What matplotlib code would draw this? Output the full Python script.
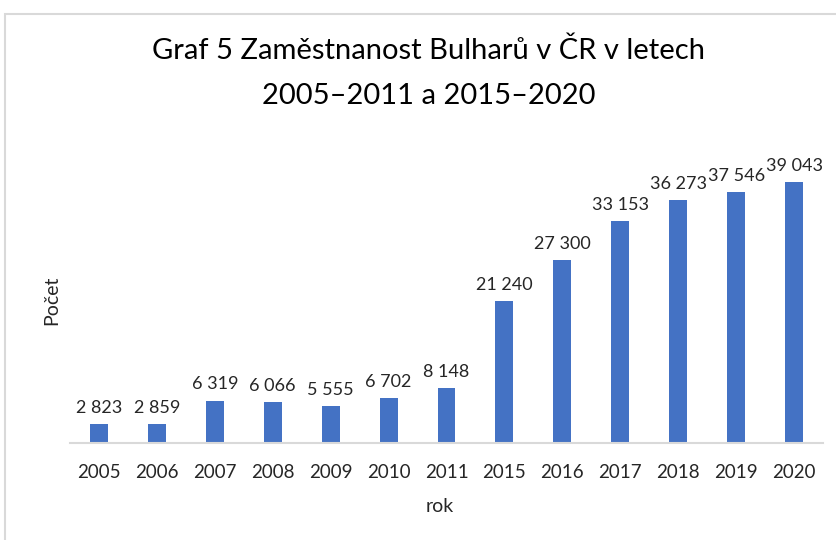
import matplotlib
matplotlib.use("Agg")
import matplotlib.pyplot as plt
from matplotlib.patches import Rectangle

years = ["2005", "2006", "2007", "2008", "2009", "2010", "2011",
         "2015", "2016", "2017", "2018", "2019", "2020"]
values = [2823, 2859, 6319, 6066, 5555, 6702, 8148,
          21240, 27300, 33153, 36273, 37546, 39043]

plt.rcParams['font.family'] = ['Lato', 'DejaVu Sans']

fig = plt.figure(figsize=(8.37, 5.4), dpi=100)
fig.patch.set_facecolor('white')

# chart border
fig.patches.append(Rectangle((5/837, -0.02), 1.1, (540-14)/540 + 0.02,
                             transform=fig.transFigure, fill=False,
                             edgecolor='#d9d9d9', linewidth=1.5))

ax = fig.add_axes([70/837, (540-443)/540, 753/837, 301/540])
x = range(len(years))
bars = ax.bar(x, values, width=0.31, color='#4472C4')
ax.set_xlim(-0.5, len(years) - 0.5)
ax.set_ylim(0, 45000)

for xi, v in zip(x, values):
    lbl = f"{v:,}".replace(",", " ")
    ax.annotate(lbl, (xi, v), xytext=(0, 6), textcoords='offset points',
                ha='center', va='bottom', fontsize=13, color='#262626')

ax.set_xticks(list(x))
ax.set_xticklabels(years, fontsize=13.5, color='#262626')
ax.tick_params(axis='x', length=0, pad=15)
ax.set_yticks([])
for s in ['top', 'right', 'left']:
    ax.spines[s].set_visible(False)
ax.spines['bottom'].set_color('#d9d9d9')
ax.spines['bottom'].set_linewidth(1.5)

fig.text(440/837, 1 - 506/540, "rok", ha='center', va='center',
         fontsize=14, color='#262626')
fig.text(52/837, 1 - 300/540, "Počet", ha='center', va='center',
         rotation=90, fontsize=14, color='#262626')

fig.text(429/837, 1 - 51/540, "Graf 5 Zaměstnanost Bulharů v ČR v letech",
         ha='center', va='center', fontsize=21, color='#000000')
fig.text(429/837, 1 - 96/540, "2005–2011 a 2015–2020",
         ha='center', va='center', fontsize=21, color='#000000')

fig.savefig("out.png", dpi=100, facecolor='white')
